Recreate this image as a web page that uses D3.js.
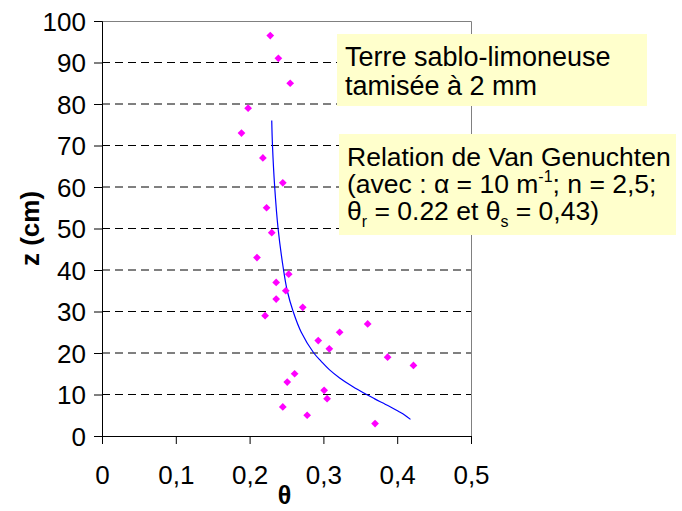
<!DOCTYPE html>
<html><head><meta charset="utf-8">
<script src="https://cdn.jsdelivr.net/npm/d3@7"></script>
<style>body{margin:0;background:#fff}svg{display:block}text{font-family:"Liberation Sans",Arial,sans-serif}</style>
</head><body>
<svg id="c" width="682" height="511"></svg>
<script>
// measured points (theta, z in cm)
const measZ = [3,5,7,9,11,13,15,17,19,21,23,25,27,29,31,33,35,37,39,43,49,55,61,67,73,79,85,91,96.5];
const measTheta = [0.370,0.278,0.245,0.305,0.301,0.251,0.261,0.422,0.387,0.308,0.293,0.322,0.360,0.221,0.272,0.236,0.249,0.236,0.253,0.210,0.230,0.223,0.245,0.218,0.189,0.198,0.255,0.239,0.228];
// Van Genuchten fitted curve
const curveZ = [4,5,6,7,8,9,10,12,14,16,18,20,25,30,35,40,50,60,70,76];
const curveTheta = [0.418,0.4105,0.401,0.391,0.380,0.369,0.3585,0.339,0.322,0.308,0.297,0.287,0.270,0.259,0.251,0.246,0.2386,0.234,0.231,0.230];
const xTicks = [0,0.1,0.2,0.3,0.4,0.5];
const xTickLabels = ["0","0,1","0,2","0,3","0,4","0,5"];
const yTicks = [0,10,20,30,40,50,60,70,80,90,100];

const svg = d3.select("#c");
const L=102, R=471, T=21, B=436;
const x = d3.scaleLinear().domain([0,0.5]).range([L,R]);
const y = d3.scaleLinear().domain([0,100]).range([B,T]);

// grid
svg.append("g").selectAll("line").data(yTicks.filter(d=>d>0&&d<100)).join("line")
  .attr("x1",L).attr("x2",R).attr("y1",d=>y(d)).attr("y2",d=>y(d))
  .attr("stroke","#000").attr("stroke-width",1).attr("stroke-dasharray","8,5");
// plot border top/right
svg.append("path").attr("d",`M${L},${y(100)+0.5}H${R+0.5}V${B}`).attr("fill","none").attr("stroke","#808080").attr("stroke-width",1);

// axes
const ax = svg.append("g").attr("transform",`translate(0,${B})`)
  .call(d3.axisBottom(x).tickValues(xTicks).tickFormat((d,i)=>xTickLabels[i]).tickSize(8).tickPadding(22));
const ay = svg.append("g").attr("transform",`translate(${L},0)`)
  .call(d3.axisLeft(y).tickValues(yTicks).tickSize(8).tickPadding(8));
[ax,ay].forEach(a=>{a.select(".domain").attr("stroke","#000");a.selectAll(".tick line").attr("stroke","#000");
  a.selectAll("text").attr("font-size",26).attr("fill","#000").attr("font-family","Liberation Sans, Arial, sans-serif");});
ay.selectAll("text").attr("dy","0.36em");

// curve
svg.append("path").datum(curveZ.map((z,i)=>[curveTheta[i],z]))
  .attr("d",d3.line().x(d=>x(d[0])).y(d=>y(d[1])).curve(d3.curveCatmullRom))
  .attr("fill","none").attr("stroke","#0000ff").attr("stroke-width",1.2);

// points
svg.append("g").selectAll("path").data(measZ.map((z,i)=>[measTheta[i],z])).join("path")
  .attr("d",d3.symbol(d3.symbolSquare,30)())
  .attr("transform",d=>`translate(${x(d[0])},${y(d[1])}) rotate(45)`)
  .attr("fill","#ff00ff");

// labels
svg.append("text").attr("x",x(0.25)-2).attr("y",504).attr("text-anchor","middle")
  .attr("font-size",25).attr("font-weight","bold").text("θ");
svg.append("text").attr("transform",`translate(39,${(T+B)/2}) rotate(-90)`).attr("text-anchor","middle")
  .attr("font-size",26).attr("font-weight","bold").text("z (cm)");

// text boxes
svg.append("rect").attr("x",337).attr("y",34).attr("width",310).attr("height",72).attr("fill","#ffffcc");
const t1 = svg.append("text").attr("x",346).attr("font-size",27).attr("fill","#000");
t1.append("tspan").attr("x",345).attr("y",66).text("Terre sablo-limoneuse");
t1.append("tspan").attr("x",345).attr("y",95).text("tamisée à 2 mm");

svg.append("rect").attr("x",339).attr("y",134).attr("width",337).attr("height",101).attr("fill","#ffffcc");
const t2 = svg.append("text").attr("font-size",26.5).attr("fill","#000");
t2.append("tspan").attr("x",347).attr("y",166).text("Relation de Van Genuchten");
const l2 = t2.append("tspan").attr("x",347).attr("y",193);
l2.append("tspan").text("(avec : α = 10 m");
l2.append("tspan").attr("font-size",16).attr("dy",-11).text("-1");
l2.append("tspan").attr("dy",11).text("; n = 2,5;");
const l3 = t2.append("tspan").attr("x",347).attr("y",220);
l3.append("tspan").text("θ");
l3.append("tspan").attr("font-size",16).attr("dy",7).text("r");
l3.append("tspan").attr("dy",-7).text(" = 0.22 et θ");
l3.append("tspan").attr("font-size",16).attr("dy",7).text("s");
l3.append("tspan").attr("dy",-7).text(" = 0,43)");
</script>
</body></html>
